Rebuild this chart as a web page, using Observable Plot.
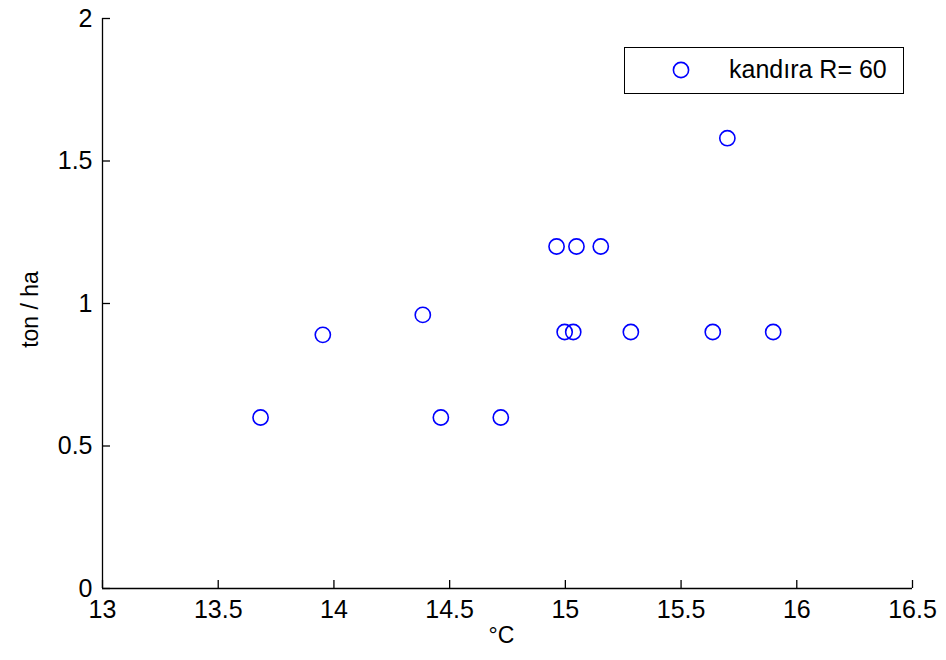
<!DOCTYPE html>
<html>
<head>
<meta charset="utf-8">
<script src="https://cdn.jsdelivr.net/npm/d3@7"></script>
<script src="https://cdn.jsdelivr.net/npm/@observablehq/plot@0.6"></script>
<style>
  body { margin: 0; background: #fff; }
  #wrap { position: relative; width: 946px; height: 660px; font-family: "Liberation Sans", Arial, sans-serif; }
  #legend { position: absolute; left: 624px; top: 47px; width: 280px; height: 47px; border: 1.3px solid #000; background: #fff; box-sizing: border-box; }
  #legend svg { position: absolute; left: 45px; top: 11px; }
  #legend span { position: absolute; left: 104px; top: 7px; font-size: 25px; color: #000; white-space: nowrap; }
</style>
</head>
<body>
<div id="wrap"></div>
<script>
const temperature = [13.683, 13.952, 14.384, 14.462, 14.721, 14.962, 15.048, 15.153, 14.997, 15.034, 15.283, 15.637, 15.700, 15.898];
const yieldTonHa  = [0.60,   0.89,   0.96,   0.60,   0.60,   1.20,   1.20,   1.20,   0.90,   0.90,   0.90,   0.90,   1.58,   0.90];
const xTicks = [13, 13.5, 14, 14.5, 15, 15.5, 16, 16.5];
const yTicks = [0, 0.5, 1, 1.5, 2];
const seriesName = "kandıra R= 60";
const xLabel = "°C";
const yLabel = "ton / ha";

const data = temperature.map((t, i) => ({t, y: yieldTonHa[i]}));

const chart = Plot.plot({
  width: 946,
  height: 660,
  marginLeft: 102,
  marginRight: 34,
  marginTop: 18,
  marginBottom: 72,
  style: {fontFamily: "'Liberation Sans', Arial, sans-serif", fontSize: "25px", color: "#000", background: "#fff"},
  x: {domain: [13, 16.5]},
  y: {domain: [0, 2]},
  marks: [
    Plot.axisX({ticks: xTicks, tickFormat: d => String(d), tickSize: -8, tickPadding: 20, label: null, stroke: "#000", strokeWidth: 1.3, fill: "#000", fontSize: 25}),
    Plot.axisY({ticks: yTicks, tickFormat: d => String(d), tickSize: -8, tickPadding: 18, label: null, stroke: "#000", strokeWidth: 1.3, fill: "#000", fontSize: 25}),
    Plot.ruleY([0], {stroke: "#000", strokeWidth: 1.3}),
    Plot.ruleX([13], {stroke: "#000", strokeWidth: 1.3}),
    Plot.dot(data, {x: "t", y: "y", r: 7.6, stroke: "#0000ff", strokeWidth: 1.6, fill: "none"}),
    Plot.text([xLabel], {frameAnchor: "bottom", dx: -6, dy: 54, fontSize: 23, fill: "#000"}),
    Plot.text([yLabel], {frameAnchor: "left", textAnchor: "middle", dx: -72, dy: 6, rotate: -90, fontSize: 23, fill: "#000"})
  ]
});

const wrap = document.getElementById("wrap");
wrap.appendChild(chart);
const legend = document.createElement("div");
legend.id = "legend";
legend.innerHTML = `<svg width="22" height="22"><circle cx="11" cy="11" r="7.6" fill="none" stroke="#0000ff" stroke-width="1.6"/></svg><span></span>`;
legend.querySelector("span").textContent = seriesName;
wrap.appendChild(legend);
</script>
</body>
</html>
